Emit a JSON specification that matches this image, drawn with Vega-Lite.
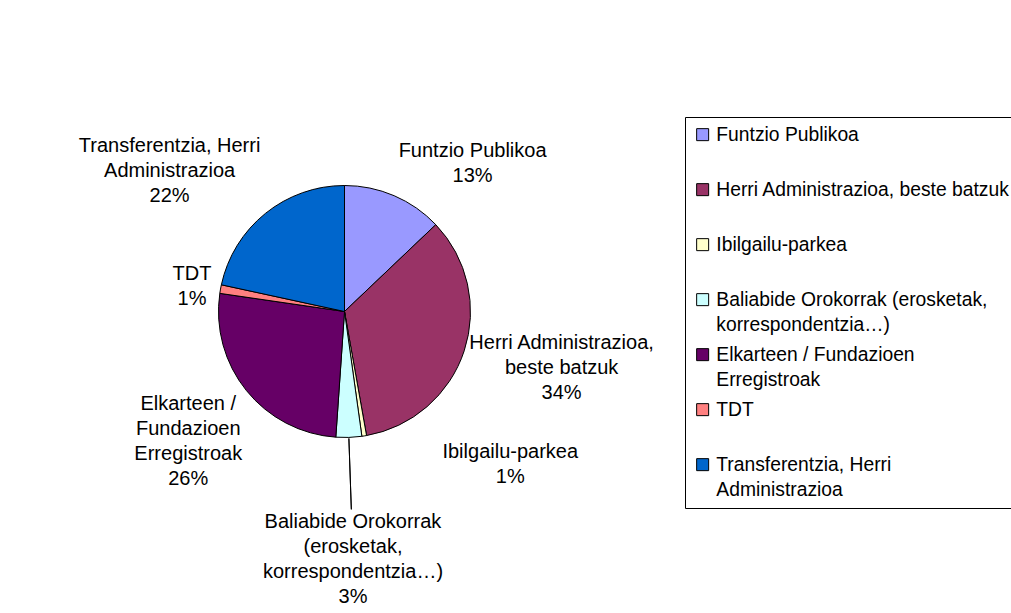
{
  "$schema": "https://vega.github.io/schema/vega-lite/v6.json",
  "width": 689,
  "height": 601,
  "autosize": {"type": "none"},
  "padding": {"left": 0, "top": 11, "right": 322, "bottom": 1},
  "background": "white",
  "config": {"view": {"stroke": null}, "text": {"font": "Liberation Sans"}},
  "data": {
    "values": [
      {"cat": "Funtzio Publikoa", "value": 12.9, "order": 1, "label": "Funtzio Publikoa|13%"},
      {"cat": "Herri Administrazioa, beste batzuk", "value": 34.3, "order": 2, "label": "Herri Administrazioa,|beste batzuk|34%"},
      {"cat": "Ibilgailu-parkea", "value": 0.6, "order": 3, "label": "Ibilgailu-parkea|1%"},
      {"cat": "Baliabide Orokorrak (erosketak,|korrespondentzia…)", "value": 3.3, "order": 4, "label": "Baliabide Orokorrak|(erosketak,|korrespondentzia…)|3%"},
      {"cat": "Elkarteen / Fundazioen|Erregistroak", "value": 26.2, "order": 5, "label": "Elkarteen /|Fundazioen|Erregistroak|26%"},
      {"cat": "TDT", "value": 1.1, "order": 6, "label": "TDT|1%"},
      {"cat": "Transferentzia, Herri|Administrazioa", "value": 21.6, "order": 7, "label": "Transferentzia, Herri|Administrazioa|22%"}
    ]
  },
  "encoding": {
    "theta": {"field": "value", "type": "quantitative", "stack": true},
    "order": {"field": "order", "type": "quantitative"}
  },
  "layer": [
    {
      "mark": {"type": "arc", "radius": 126, "stroke": "black", "strokeWidth": 1},
      "encoding": {
        "color": {
          "field": "cat",
          "type": "nominal",
          "scale": {
            "domain": ["Funtzio Publikoa", "Herri Administrazioa, beste batzuk", "Ibilgailu-parkea", "Baliabide Orokorrak (erosketak,|korrespondentzia…)", "Elkarteen / Fundazioen|Erregistroak", "TDT", "Transferentzia, Herri|Administrazioa"],
            "range": ["#9999FF", "#993366", "#FFFFCC", "#CCFFFF", "#660066", "#FF8080", "#0066CC"]
          },
          "legend": {
            "orient": "none",
            "legendX": 685,
            "legendY": 106,
            "title": null,
            "symbolType": "square",
            "symbolSize": 144,
            "symbolStrokeColor": "black",
            "symbolStrokeWidth": 1,
            "symbolOpacity": 1,
            "labelFont": "Liberation Sans",
            "labelFontSize": 19.3,
            "labelColor": "black",
            "labelLimit": 500,
            "labelOffset": 4,
            "labelBaseline": "middle",
            "labelExpr": "split(datum.label, '|')",
            "rowPadding": 10,
            "gridAlign": "all",
            "padding": 8,
            "strokeColor": "black",
            "fillColor": "white",
            "cornerRadius": 0,
            "encoding": {"labels": {"lineHeight": {"value": 25}}}
          }
        }
      }
    },
    {
      "mark": {"type": "arc", "radius": 198, "radius2": 127, "padAngle": 0.7, "fillOpacity": 0, "stroke": "black", "strokeWidth": 1},
      "encoding": {
        "strokeOpacity": {"condition": {"test": "datum.order === 4", "value": 1}, "value": 0}
      }
    },
    {
      "mark": {"type": "text", "radius": 193, "dx": 52, "dy": 23, "align": "center", "baseline": "alphabetic", "fontSize": 20, "lineHeight": 25, "lineBreak": "|", "font": "Liberation Sans", "color": "black"},
      "encoding": {"text": {"condition": {"test": "datum.order === 1", "field": "label"}, "value": ""}}
    },
    {
      "mark": {"type": "text", "radius": 218, "dx": 10, "dy": -31, "align": "center", "baseline": "alphabetic", "fontSize": 20, "lineHeight": 25, "lineBreak": "|", "font": "Liberation Sans", "color": "black"},
      "encoding": {"text": {"condition": {"test": "datum.order === 2", "field": "label"}, "value": ""}}
    },
    {
      "mark": {"type": "text", "radius": 171, "dx": 139, "dy": -22, "align": "center", "baseline": "alphabetic", "fontSize": 20, "lineHeight": 25, "lineBreak": "|", "font": "Liberation Sans", "color": "black"},
      "encoding": {"text": {"condition": {"test": "datum.order === 3", "field": "label"}, "value": ""}}
    },
    {
      "mark": {"type": "text", "radius": 217, "dx": 1, "dy": 0, "align": "center", "baseline": "alphabetic", "fontSize": 20, "lineHeight": 25, "lineBreak": "|", "font": "Liberation Sans", "color": "black"},
      "encoding": {"text": {"condition": {"test": "datum.order === 4", "field": "label"}, "value": ""}}
    },
    {
      "mark": {"type": "text", "radius": 184, "dx": -13, "dy": -17, "align": "center", "baseline": "alphabetic", "fontSize": 20, "lineHeight": 25, "lineBreak": "|", "font": "Liberation Sans", "color": "black"},
      "encoding": {"text": {"condition": {"test": "datum.order === 5", "field": "label"}, "value": ""}}
    },
    {
      "mark": {"type": "text", "radius": 156, "dx": 1, "dy": -4, "align": "center", "baseline": "alphabetic", "fontSize": 20, "lineHeight": 25, "lineBreak": "|", "font": "Liberation Sans", "color": "black"},
      "encoding": {"text": {"condition": {"test": "datum.order === 6", "field": "label"}, "value": ""}}
    },
    {
      "mark": {"type": "text", "radius": 234, "dx": -28, "dy": 23, "align": "center", "baseline": "alphabetic", "fontSize": 20, "lineHeight": 25, "lineBreak": "|", "font": "Liberation Sans", "color": "black"},
      "encoding": {"text": {"condition": {"test": "datum.order === 7", "field": "label"}, "value": ""}}
    }
  ]
}
